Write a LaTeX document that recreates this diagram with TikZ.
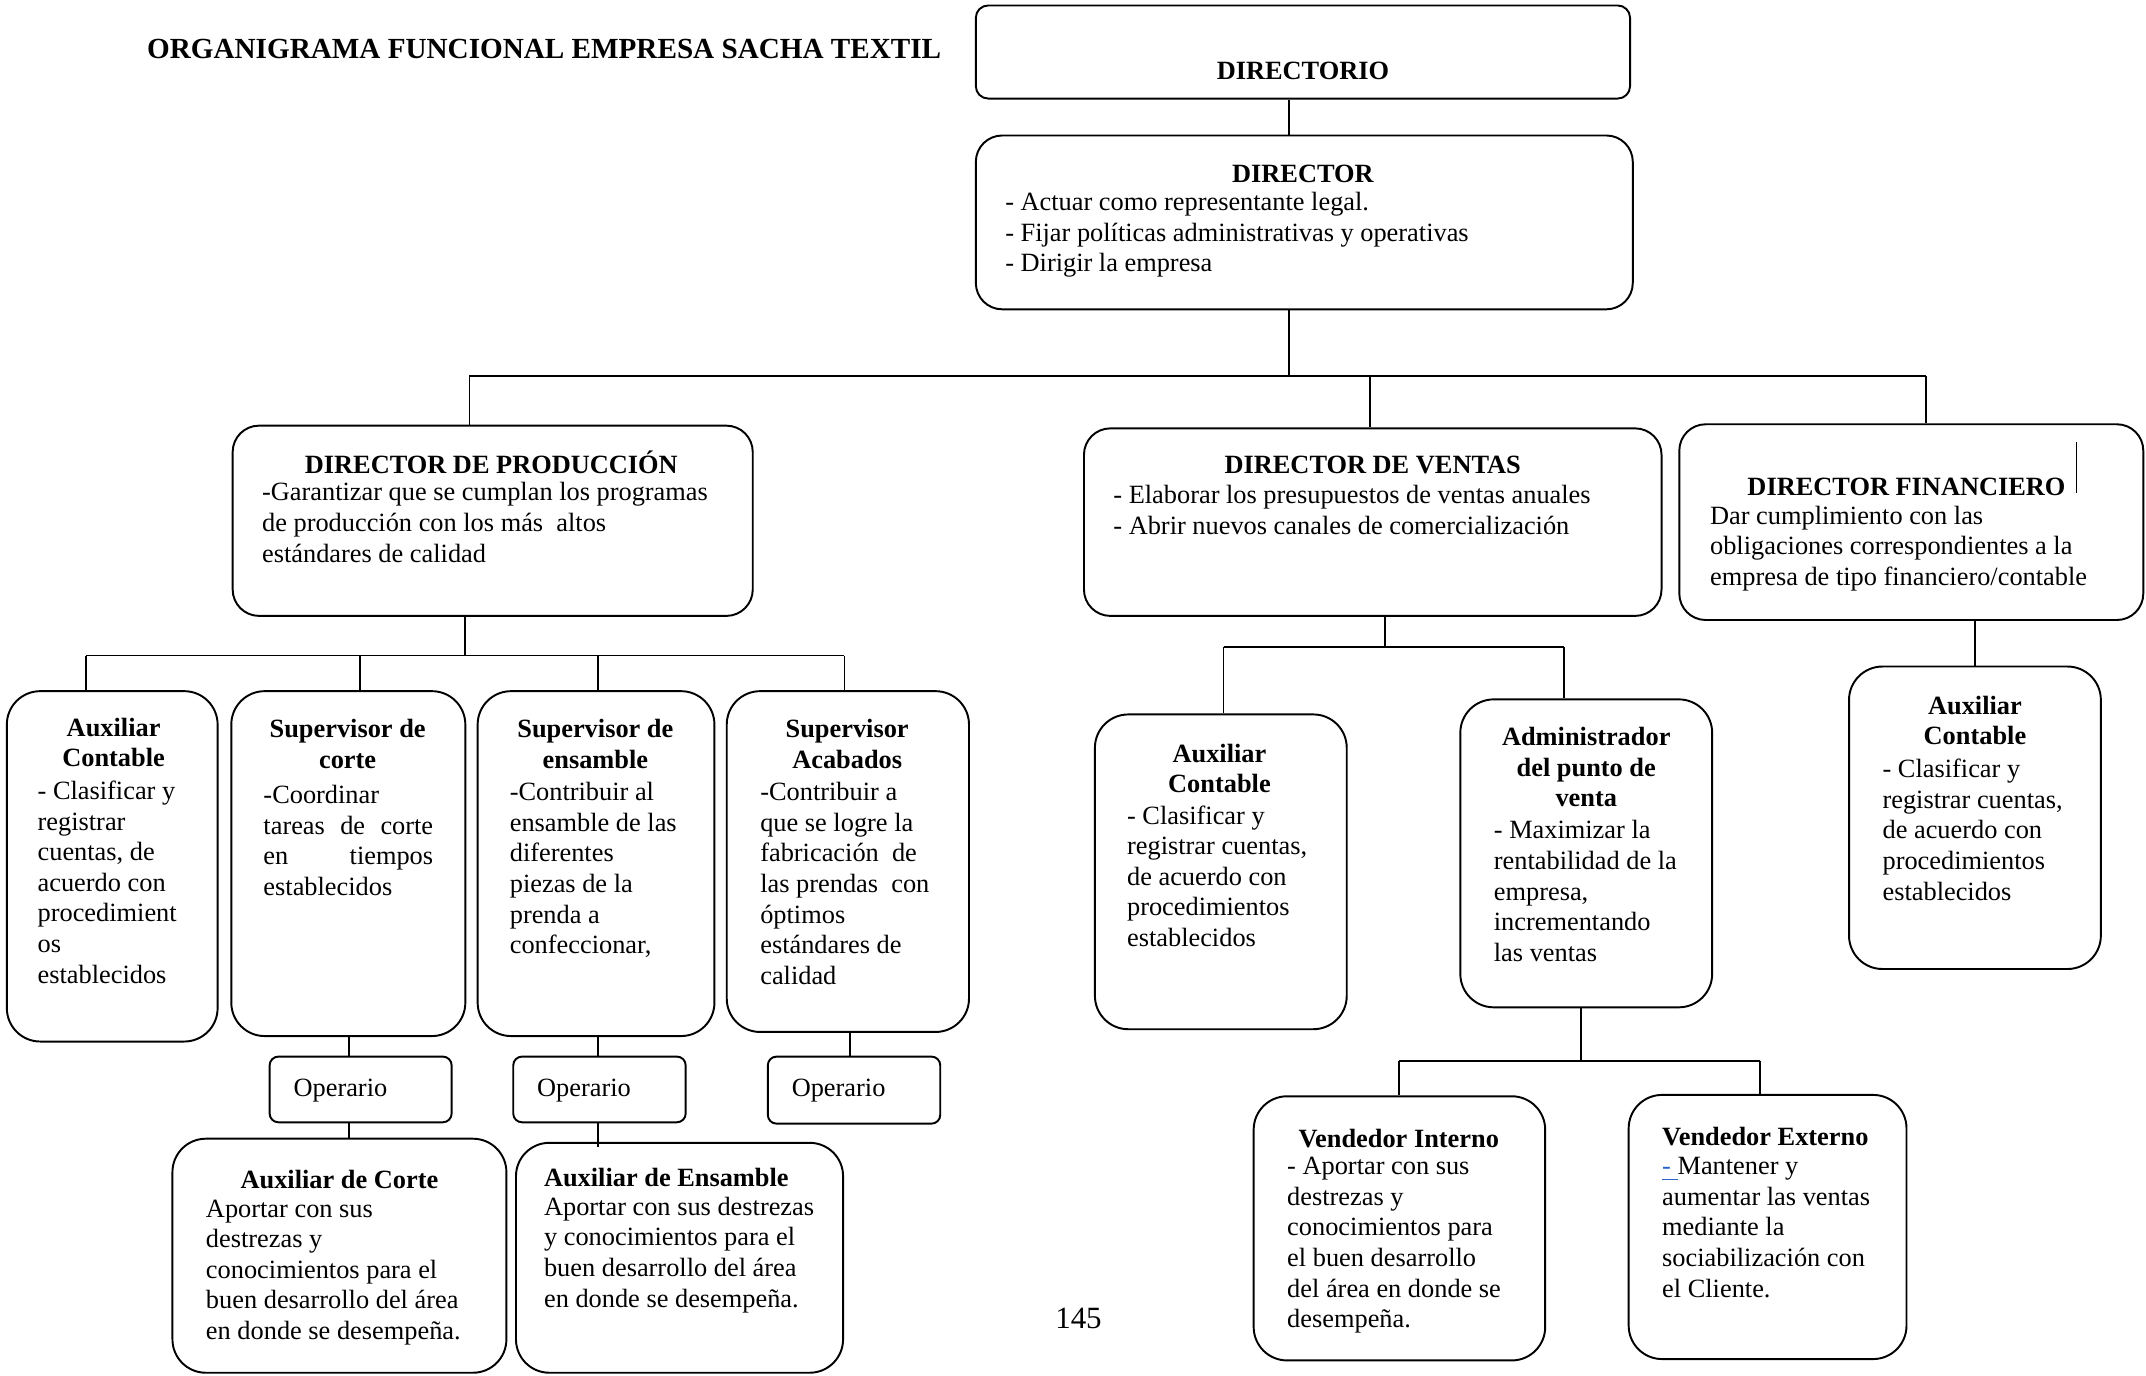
\documentclass[tikz,border=0pt]{standalone}
\usepackage{fontspec}
\setmainfont{Liberation Serif}
\usetikzlibrary{fit}
\definecolor{LinkBlue}{RGB}{40,100,200}
\tikzset{
  box/.style={draw=black,line width=0.55pt,rounded corners=7.5pt,inner sep=0pt},
  bigbox/.style={box,rounded corners=9.5pt},
  flatbox/.style={box,rounded corners=3.5pt},
  opbox/.style={box,rounded corners=2.5pt},
  head/.style={anchor=north,align=center,inner sep=0pt,yshift=-0.027cm,
    font=\fontsize{7.5}{8.72}\selectfont\bfseries,execute at begin node=\strut},
  lefthead/.style={head,anchor=north west,align=left},
  body/.style={anchor=north west,align=left,inner sep=0pt,yshift=-0.041cm,
    font=\fontsize{7.5}{8.72}\selectfont,execute at begin node=\strut},
  link/.style={draw=black,line width=0.5pt}
}

\begin{document}
\begin{tikzpicture}[x=0.013686cm,y=-0.013686cm]
  \path[fill=white] (0,0) rectangle (1568,1005);
  \node[anchor=west,inner sep=0pt,font=\fontsize{8.3}{10}\selectfont\bfseries] (title) at (107,36)
    {ORGANIGRAMA FUNCIONAL EMPRESA SACHA TEXTIL};

  % boxes
  \node[flatbox,fit={(713,4) (1191,72)}] (dirio) {};
  \node[box,fit={(713,99) (1193,226)}] (dir) {};
  \node[box,fit={(170,311) (550,450)}] (prod) {};
  \node[box,fit={(792,313) (1214,450)}] (vent) {};
  \node[box,fit={(1227,310) (1566,453)}] (fin) {};
  \node[bigbox,fit={(5,505) (159,761)}] (aux1) {};
  \node[bigbox,fit={(169,505) (340,757)}] (supc) {};
  \node[bigbox,fit={(349,505) (522,757)}] (supe) {};
  \node[bigbox,fit={(531,505) (708,754)}] (supa) {};
  \node[opbox,fit={(197,772) (330,820)}] (op1) {};
  \node[opbox,fit={(375,772) (501,820)}] (op2) {};
  \node[opbox,fit={(561,772) (687,821)}] (op3) {};
  \node[bigbox,fit={(126,832) (370,1003)}] (auxc) {};
  \node[bigbox,fit={(377,835) (616,1003)}] (auxe) {};
  \node[bigbox,fit={(800,522) (984,752)}] (aux2) {};
  \node[bigbox,fit={(1067,511) (1251,736)}] (adm) {};
  \node[bigbox,fit={(916,801) (1129,994)}] (vint) {};
  \node[bigbox,fit={(1190,800) (1393,993)}] (vext) {};
  \node[bigbox,fit={(1351,487) (1535,708)}] (aux3) {};

  % texts
  \node[head] (dirioT) at (952,40) {DIRECTORIO};
  \node[head] (dirT) at (952,115) {DIRECTOR};
  \node[body] (dirB) at (734,137) {- Actuar como representante legal.\\
    - Fijar políticas administrativas y operativas\\- Dirigir la empresa};
  \node[head] (prodT) at (359,327) {DIRECTOR DE PRODUCCIÓN};
  \node[body] (prodB) at (191,349) {-Garantizar que se cumplan los programas\\
    de producción con los más~ altos\\estándares de calidad};
  \node[head] (ventT) at (1003,328) {DIRECTOR DE VENTAS};
  \node[body] (ventB) at (813,351) {- Elaborar los presupuestos de ventas anuales\\
    - Abrir nuevos canales de comercialización};
  \node[head] (finT) at (1393,344) {DIRECTOR FINANCIERO};
  \node[body] (finB) at (1249,366) {Dar cumplimiento con las\\
    obligaciones correspondientes a la\\empresa de tipo financiero/contable};
  \draw[line width=0.4pt] (1517,323) -- (1517,360);

  \node[head] (aux1T) at (83,522) {Auxiliar\\Contable};
  \node[body] (aux1B) at (27,567) {- Clasificar y\\registrar\\cuentas, de\\acuerdo con\\
    procedimient\\os\\establecidos};
  \node[head] (supcT) at (254,523) {Supervisor de\\corte};
  \node[body,text width=1.697cm] (supcB) at (192,568) {-Coordinar\\
    tareas\hfill de\hfill corte\\en\hfill tiempos\\establecidos};
  \node[head] (supeT) at (435,523) {Supervisor de\\ensamble};
  \node[body] (supeB) at (372,568) {-Contribuir al\\ensamble de las\\diferentes\\
    piezas de la\\prenda a\\confeccionar,};
  \node[head] (supaT) at (619,523) {Supervisor\\Acabados};
  \node[body] (supaB) at (555,568) {-Contribuir a\\que se logre la\\fabricación~ de\\
    las prendas~ con\\óptimos\\estándares de\\calidad};

  \node[body] (op1T) at (214,782) {Operario};
  \node[body] (op2T) at (392,782) {Operario};
  \node[body] (op3T) at (578,782) {Operario};

  \node[head] (auxcT) at (248,850) {Auxiliar de Corte};
  \node[body] (auxcB) at (150,873) {Aportar con sus\\destrezas y\\conocimientos para el\\
    buen desarrollo del área\\en donde se desempeña.};
  \node[lefthead] (auxeT) at (397,849) {Auxiliar de Ensamble};
  \node[body] (auxeB) at (397,871) {Aportar con sus destrezas\\y conocimientos para el\\
    buen desarrollo del área\\en donde se desempeña.};

  \node[head] (aux2T) at (891,541) {Auxiliar\\Contable};
  \node[body] (aux2B) at (823,585) {- Clasificar y\\registrar cuentas,\\de acuerdo con\\
    procedimientos\\establecidos};
  \node[head] (admT) at (1159,529) {Administrador\\del punto de\\venta};
  \node[body] (admB) at (1091,596) {- Maximizar la\\rentabilidad de la\\empresa,\\
    incrementando\\las ventas};
  \node[head] (vintT) at (1022,820) {Vendedor Interno};
  \node[body] (vintB) at (940,842) {- Aportar con sus\\destrezas y\\conocimientos para\\
    el buen desarrollo\\del área en donde se\\desempeña.};
  \node[lefthead] (vextT) at (1214,819) {Vendedor Externo};
  \node[body] (vextB) at (1214,842) {\textcolor{LinkBlue}{\underline{-\ }}Mantener y\\
    aumentar las ventas\\mediante la\\sociabilización con\\el Cliente.};
  \node[head] (aux3T) at (1443,506) {Auxiliar\\Contable};
  \node[body] (aux3B) at (1375,551) {- Clasificar y\\registrar cuentas,\\de acuerdo con\\
    procedimientos\\establecidos};

  \node[inner sep=0pt,font=\fontsize{8.8}{10}\selectfont] (page) at (788,963) {145};

  % connectors
  \coordinate (trunk) at (942,275);
  \coordinate (busL) at (343,275);
  \coordinate (busV) at (1001,275);
  \coordinate (busR) at (1407,275);
  \draw[link] (dirio.south -| trunk) -- (dir.north -| trunk);
  \draw[link] (dir.south -| trunk) -- (trunk);
  \draw[link] (busL) -- (busR);
  \draw[link] (busL) -- (busL |- prod.north);
  \draw[link] (busV) -- (busV |- vent.north);
  \draw[link] (busR) -- (busR |- fin.north);

  \coordinate (prodBus) at (340,479);
  \draw[link] (prod.south -| prodBus) -- (prodBus);
  \draw[link] (63,479) -- (617,479);
  \foreach \c/\n in {63/aux1,263/supc,437/supe,617/supa}
    \draw[link] (\c,479) -- (\c,479 |- \n.north);

  \coordinate (opA) at (255,0);
  \coordinate (opB) at (437,0);
  \coordinate (opC) at (621,0);
  \draw[link] (supc.south -| opA) -- (op1.north -| opA);
  \draw[link] (op1.south -| opA) -- (auxc.north -| opA);
  \draw[link] (supe.south -| opB) -- (op2.north -| opB);
  \draw[link] (op2.south -| opB) -- ([yshift=-1.5pt]auxe.north -| opB);
  \draw[link] (supa.south -| opC) -- (op3.north -| opC);

  \coordinate (ventBus) at (1012,473);
  \draw[link] (vent.south -| ventBus) -- (ventBus);
  \draw[link] (894,473) -- (1143,473);
  \draw[link] (894,473) -- (894,473 |- aux2.north);
  \draw[link] (1143,473) -- (1143,473 |- adm.north);

  \coordinate (admBus) at (1155,775);
  \draw[link] (adm.south -| admBus) -- (admBus);
  \draw[link] (1022,775) -- (1286,775);
  \draw[link] (1022,775) -- (1022,775 |- vint.north);
  \draw[link] (1286,775) -- (1286,775 |- vext.north);

  \coordinate (finDrop) at (1443,0);
  \draw[link] (fin.south -| finDrop) -- (aux3.north -| finDrop);
\end{tikzpicture}
\end{document}
